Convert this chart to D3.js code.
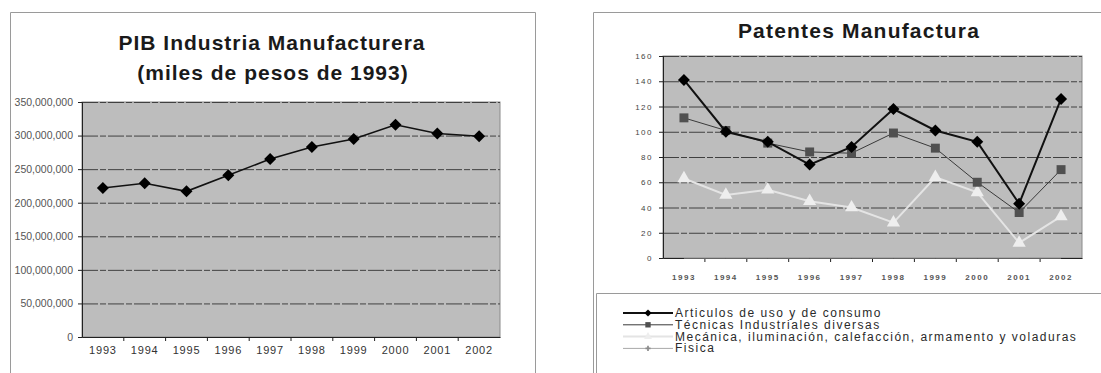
<!DOCTYPE html>
<html>
<head>
<meta charset="utf-8">
<script src="https://cdn.jsdelivr.net/npm/d3@7"></script>
<style>
  body { margin: 0; background: #fff; }
  svg { font-family: "Liberation Sans", Arial, sans-serif; }
</style>
</head>
<body>
<script>
// data
const years = ['1993', '1994', '1995', '1996', '1997', '1998', '1999', '2000', '2001', '2002'];
const pib = [222e6, 229e6, 217e6, 241e6, 265e6, 283e6, 295e6, 316e6, 303e6, 299e6];
const pibTicks = [0, 50e6, 100e6, 150e6, 200e6, 250e6, 300e6, 350e6];

const articulos = [141, 100, 92, 74, 88, 118, 101, 92, 43, 126];
const tecnicas = [111, 101, 91, 84, 83, 99, 87, 60, 36, 70];
const mecanica = [63, 50, 54, 45, 40, 28, 64, 52, 12, 33];
const fisica = [0, 0, 0, 0, 0, 0, 0, 0, 0, 0];
const patTicks = [0, 20, 40, 60, 80, 100, 120, 140, 160];
const seriesNames = ['Articulos de uso y de consumo', 'Técnicas Industriales diversas',
  'Mecánica, iluminación, calefacción, armamento y voladuras', 'Fisica'];

const W = 1101, H = 373;
const svg = d3.select('body').append('svg').attr('width', W).attr('height', H);

// chart frames
const frame = svg.append('g').attr('fill', 'none').attr('stroke', '#9a9a9a').attr('stroke-width', 1);
frame.append('path').attr('d', 'M10.5,373V12.5H535.5V373');
frame.append('path').attr('d', 'M593.5,373V12.5H1101');
frame.append('path').attr('d', 'M596.5,373V293.5H1101');

// ---------- left chart ----------
const L = { x0: 82, x1: 500, y0: 102, y1: 337 };
const lx = d3.scaleBand().domain(years).range([L.x0, L.x1]);
const ly = d3.scaleLinear().domain([0, 350e6]).range([L.y1, L.y0]);

svg.append('text').attr('x', 272).attr('y', 50).attr('text-anchor', 'middle')
  .attr('font-size', 21).attr('font-weight', 'bold').attr('letter-spacing', 1).attr('fill', '#1a1a1a')
  .text('PIB Industria Manufacturera');
svg.append('text').attr('x', 273).attr('y', 80).attr('text-anchor', 'middle')
  .attr('font-size', 21).attr('font-weight', 'bold').attr('letter-spacing', 1).attr('fill', '#1a1a1a')
  .text('(miles de pesos de 1993)');

svg.append('rect').attr('x', L.x0).attr('y', L.y0).attr('width', L.x1 - L.x0).attr('height', L.y1 - L.y0)
  .attr('fill', '#bdbdbd').attr('stroke', '#8a8a8a');

svg.append('g').attr('transform', `translate(${L.x0},0)`)
  .call(d3.axisLeft(ly).tickValues(pibTicks.slice(1)).tickSize(-(L.x1 - L.x0)).tickFormat(''))
  .call(g => g.select('.domain').remove())
  .call(g => g.selectAll('line').attr('stroke', '#404040').attr('stroke-dasharray', '16,2,6,2'));

svg.append('g').attr('transform', `translate(${L.x0},0)`)
  .call(d3.axisLeft(ly).tickValues(pibTicks).tickSize(4).tickPadding(5).tickFormat(d3.format(',')))
  .call(g => g.select('.domain').attr('stroke', '#222'))
  .call(g => g.selectAll('line').attr('stroke', '#222'))
  .call(g => g.selectAll('text').attr('font-size', 10.5).attr('fill', '#555').attr('font-family', '"Liberation Sans", Arial'));

svg.append('g').attr('transform', `translate(0,${L.y1})`)
  .call(d3.axisBottom(lx).tickSize(0).tickPadding(9))
  .call(g => g.select('.domain').attr('stroke', '#222'))
  .call(g => g.selectAll('text').attr('font-size', 11).attr('letter-spacing', 0.8).attr('fill', '#333').attr('font-family', '"Liberation Sans", Arial'));
svg.append('g').selectAll('line').data(years.slice(1)).join('line')
  .attr('x1', d => lx(d)).attr('x2', d => lx(d)).attr('y1', L.y1).attr('y2', L.y1 + 4).attr('stroke', '#222');

const lline = d3.line().x((d, i) => lx(years[i]) + lx.bandwidth() / 2).y(d => ly(d));
svg.append('path').datum(pib).attr('d', lline).attr('fill', 'none').attr('stroke', '#111').attr('stroke-width', 1.6);
svg.append('g').selectAll('path').data(pib).join('path')
  .attr('d', d3.symbol(d3.symbolSquare, 72))
  .attr('transform', (d, i) => `translate(${lx(years[i]) + lx.bandwidth() / 2},${ly(d)}) rotate(45)`)
  .attr('fill', '#000');

// ---------- right chart ----------
const R = { x0: 663, x1: 1082, y0: 56, y1: 258 };
const rx = d3.scaleBand().domain(years).range([R.x0, R.x1]);
const ry = d3.scaleLinear().domain([0, 160]).range([R.y1, R.y0]);

svg.append('text').attr('x', 859).attr('y', 38).attr('text-anchor', 'middle')
  .attr('font-size', 21).attr('font-weight', 'bold').attr('letter-spacing', 1.2).attr('fill', '#1a1a1a')
  .text('Patentes Manufactura');

svg.append('rect').attr('x', R.x0).attr('y', R.y0).attr('width', R.x1 - R.x0).attr('height', R.y1 - R.y0)
  .attr('fill', '#bdbdbd').attr('stroke', '#8a8a8a');

svg.append('g').attr('transform', `translate(${R.x0},0)`)
  .call(d3.axisLeft(ry).tickValues(patTicks.slice(1)).tickSize(-(R.x1 - R.x0)).tickFormat(''))
  .call(g => g.select('.domain').remove())
  .call(g => g.selectAll('line').attr('stroke', '#404040').attr('stroke-dasharray', '16,2,6,2'));

svg.append('g').attr('transform', `translate(${R.x0},0)`)
  .call(d3.axisLeft(ry).tickValues(patTicks).tickSize(4).tickPadding(6))
  .call(g => g.select('.domain').attr('stroke', '#222'))
  .call(g => g.selectAll('line').attr('stroke', '#222'))
  .call(g => g.selectAll('text').attr('font-size', 8).attr('letter-spacing', 1.5).attr('fill', '#444').attr('font-family', '"Liberation Sans", Arial'));

svg.append('g').attr('transform', `translate(0,${R.y1})`)
  .call(d3.axisBottom(rx).tickSize(0).tickPadding(16))
  .call(g => g.select('.domain').attr('stroke', '#222'))
  .call(g => g.selectAll('text').attr('font-size', 8).attr('font-weight', 'bold').attr('letter-spacing', 1.5).attr('fill', '#555').attr('font-family', '"Liberation Sans", Arial'));
svg.append('g').selectAll('line').data(years.slice(1)).join('line')
  .attr('x1', d => rx(d)).attr('x2', d => rx(d)).attr('y1', R.y1).attr('y2', R.y1 + 4).attr('stroke', '#222');

const series = [
  { name: seriesNames[0], values: articulos, stroke: '#111', width: 2, marker: 'diamond', fill: '#000' },
  { name: seriesNames[1], values: tecnicas, stroke: '#3a3a3a', width: 1, marker: 'square', fill: '#505050' },
  { name: seriesNames[2], values: mecanica, stroke: '#e4e4e4', width: 2, marker: 'triangle', fill: '#eeeeee' },
  { name: seriesNames[3], values: fisica, stroke: '#a8a8a8', width: 1, marker: 'star', fill: '#8c8c8c' }
];

function markerPath(type, scale) {
  if (type === 'diamond') return d3.symbol(d3.symbolSquare, 72 * scale * scale)();
  if (type === 'square') return d3.symbol(d3.symbolSquare, 80 * scale * scale)();
  if (type === 'triangle') return d3.symbol(d3.symbolTriangle, 75 * scale * scale)();
  return d3.symbol(d3.symbolCross, 40 * scale * scale)();
}

const rline = d3.line().x((d, i) => rx(years[i]) + rx.bandwidth() / 2).y(d => ry(d));
// back to front: Física, Mecánica, Técnicas, Artículos
series.slice().reverse().forEach(s => {
  svg.append('path').datum(s.values).attr('d', rline).attr('fill', 'none')
    .attr('stroke', s.stroke).attr('stroke-width', s.width);
  if (s.marker === 'star') return;
  svg.append('g').selectAll('path').data(s.values).join('path')
    .attr('d', markerPath(s.marker, 1))
    .attr('transform', (d, i) => `translate(${rx(years[i]) + rx.bandwidth() / 2},${ry(d)})` + (s.marker === 'diamond' ? ' rotate(45)' : ''))
    .attr('fill', s.fill);
});

// legend
const leg = svg.append('g');
series.forEach((s, i) => {
  const y = 313 + i * 11.8;
  leg.append('line').attr('x1', 623).attr('x2', 673).attr('y1', y).attr('y2', y)
    .attr('stroke', s.stroke).attr('stroke-width', s.width);
  leg.append('path').attr('d', markerPath(s.marker, 0.6))
    .attr('transform', `translate(648,${y})` + (s.marker === 'diamond' ? ' rotate(45)' : ''))
    .attr('fill', s.fill);
  leg.append('text').attr('x', 675).attr('y', y + 4).attr('font-size', 12).attr('letter-spacing', 1.5)
    .attr('fill', '#2a2a2a').text(s.name);
});
</script>
</body>
</html>
